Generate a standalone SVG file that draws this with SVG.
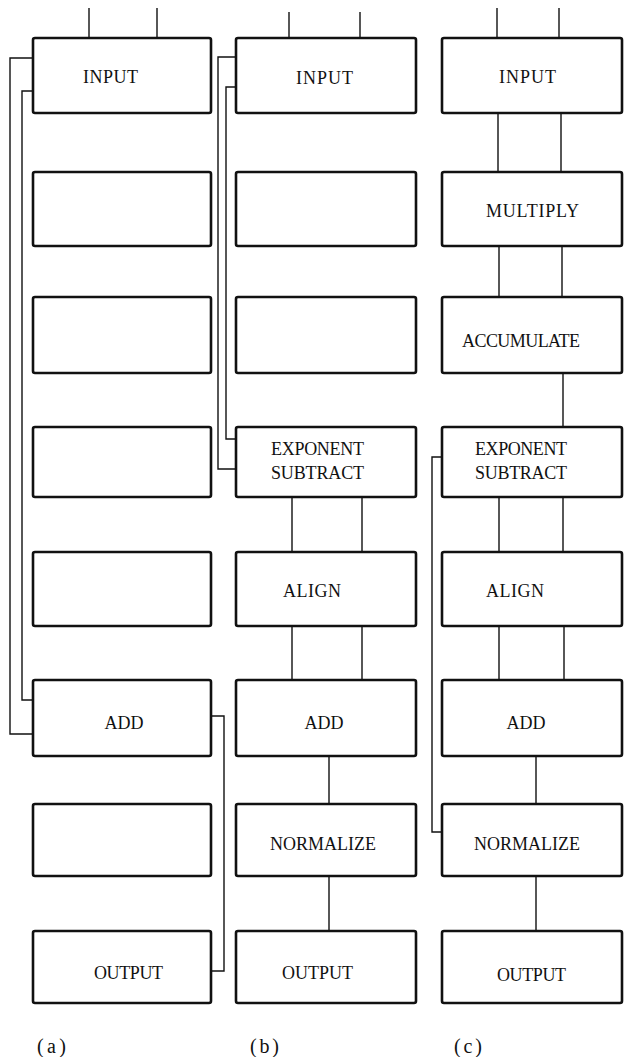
<svg xmlns="http://www.w3.org/2000/svg" width="625" height="1057" viewBox="0 0 625 1057">
<style>
.box{fill:#fff;stroke:#111;stroke-width:2.6}
.ln{fill:none;stroke:#111;stroke-width:1.4}
text{font-family:"Liberation Serif","Times New Roman",serif;font-size:18px;fill:#111}
.lab{font-size:20px}
.add{text-anchor:middle}
</style>
<rect width="625" height="1057" fill="#fff"/>
<g id="connectors">
<path class="ln" d="M89 8V38M157 8V38"/>
<path class="ln" d="M33 58H10V734H33"/>
<path class="ln" d="M33 91H22V700H33"/>
<path class="ln" d="M211 716H224V971H211"/>
<path class="ln" d="M289 12V38M360 12V38"/>
<path class="ln" d="M236 57H218V469H236"/>
<path class="ln" d="M236 87H226V439H236"/>
<path class="ln" d="M292 497V552M362 497V552M292 626V680M362 626V680"/>
<path class="ln" d="M329 756V804M329 876V931"/>
<path class="ln" d="M497 8V38M559 8V38"/>
<path class="ln" d="M498 113V172M561 113V172M499 246V297M562 246V297"/>
<path class="ln" d="M563 373V427"/>
<path class="ln" d="M499 497V552M563 497V552M499 626V680M564 626V680"/>
<path class="ln" d="M536 756V804M536 876V931"/>
<path class="ln" d="M442 457H432V832H442"/>
</g>
<g id="a-input"><rect class="box" x="33" y="38" width="178" height="75" rx="2"/><text x="83" y="83" textLength="55">INPUT</text></g>
<g id="a-2"><rect class="box" x="33" y="172" width="178" height="74" rx="2"/></g>
<g id="a-3"><rect class="box" x="33" y="297" width="178" height="76" rx="2"/></g>
<g id="a-4"><rect class="box" x="33" y="427" width="178" height="70" rx="2"/></g>
<g id="a-5"><rect class="box" x="33" y="552" width="178" height="74" rx="2"/></g>
<g id="a-add"><rect class="box" x="33" y="680" width="178" height="76" rx="2"/><text class="add" x="124" y="729">ADD</text></g>
<g id="a-7"><rect class="box" x="33" y="804" width="178" height="72" rx="2"/></g>
<g id="a-output"><rect class="box" x="33" y="931" width="178" height="72" rx="2"/><text x="94" y="979" textLength="69">OUTPUT</text></g>
<g id="b-input"><rect class="box" x="236" y="38" width="180" height="75" rx="2"/><text x="296" y="84" textLength="57">INPUT</text></g>
<g id="b-2"><rect class="box" x="236" y="172" width="180" height="74" rx="2"/></g>
<g id="b-3"><rect class="box" x="236" y="297" width="180" height="76" rx="2"/></g>
<g id="b-exp"><rect class="box" x="236" y="427" width="180" height="70" rx="2"/><text x="271" y="455" textLength="93">EXPONENT</text><text x="271" y="479" textLength="93">SUBTRACT</text></g>
<g id="b-align"><rect class="box" x="236" y="552" width="180" height="74" rx="2"/><text x="283" y="597" textLength="58">ALIGN</text></g>
<g id="b-add"><rect class="box" x="236" y="680" width="180" height="76" rx="2"/><text class="add" x="324" y="729">ADD</text></g>
<g id="b-norm"><rect class="box" x="236" y="804" width="180" height="72" rx="2"/><text x="270" y="850" textLength="106">NORMALIZE</text></g>
<g id="b-output"><rect class="box" x="236" y="931" width="180" height="72" rx="2"/><text x="282" y="979" textLength="71">OUTPUT</text></g>
<g id="c-input"><rect class="box" x="442" y="38" width="180" height="75" rx="2"/><text x="499" y="83" textLength="57">INPUT</text></g>
<g id="c-mult"><rect class="box" x="442" y="172" width="180" height="74" rx="2"/><text x="486" y="217" textLength="93">MULTIPLY</text></g>
<g id="c-acc"><rect class="box" x="442" y="297" width="180" height="76" rx="2"/><text x="462" y="347" textLength="118">ACCUMULATE</text></g>
<g id="c-exp"><rect class="box" x="442" y="427" width="180" height="70" rx="2"/><text x="475" y="455" textLength="92">EXPONENT</text><text x="475" y="479" textLength="92">SUBTRACT</text></g>
<g id="c-align"><rect class="box" x="442" y="552" width="180" height="74" rx="2"/><text x="486" y="597" textLength="58">ALIGN</text></g>
<g id="c-add"><rect class="box" x="442" y="680" width="180" height="76" rx="2"/><text class="add" x="526" y="729">ADD</text></g>
<g id="c-norm"><rect class="box" x="442" y="804" width="180" height="72" rx="2"/><text x="474" y="850" textLength="106">NORMALIZE</text></g>
<g id="c-output"><rect class="box" x="442" y="931" width="180" height="72" rx="2"/><text x="497" y="981" textLength="69">OUTPUT</text></g>
<g id="labels"><text class="lab" x="37" y="1053" textLength="29">(a)</text><text class="lab" x="250" y="1053" textLength="29">(b)</text><text class="lab" x="454" y="1053" textLength="28">(c)</text></g>
</svg>
